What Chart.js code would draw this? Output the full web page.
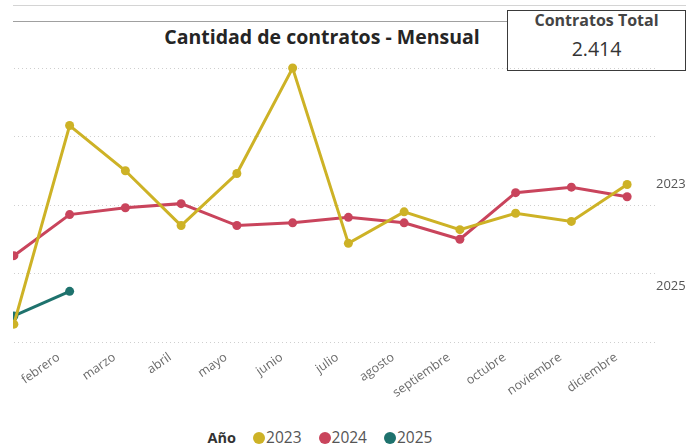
<!DOCTYPE html>
<html><head><meta charset="utf-8">
<script src="https://cdn.jsdelivr.net/npm/chart.js@4.4.1/dist/chart.umd.min.js"></script>
<style>
html,body{margin:0;padding:0;background:#fff;width:686px;height:446px;overflow:hidden;font-family:'Open Sans',sans-serif;position:relative;}
#line1{position:absolute;left:13px;top:5px;width:673px;height:1px;background:#d4d4d4;}
#line2{position:absolute;left:13px;top:21px;width:495px;height:1px;background:#a0a0a0;}
#title{position:absolute;left:0;width:644px;top:24px;text-align:center;font-weight:700;font-size:19.5px;color:#252525;line-height:26px;}
#card{position:absolute;left:507px;top:10px;width:179px;height:61px;border:1.5px solid #3a3a3a;box-sizing:border-box;background:#fff;text-align:center;}
#cardT{position:absolute;left:0;right:0;top:-2px;font-weight:700;font-size:16px;color:#444;line-height:22px;}
#cardV{position:absolute;left:0;right:0;top:24px;font-size:19.5px;color:#333;line-height:28px;}
#clip{position:absolute;left:13px;top:0;width:673px;height:420px;overflow:hidden;}
#c{position:absolute;left:-113px;top:0;}
#legend{position:absolute;top:426px;left:0;width:640px;text-align:center;font-size:15.5px;color:#555;line-height:22px;white-space:nowrap;}
#legend b{color:#333;margin-right:17px;font-size:14.5px;}
#legend .it{display:inline-block;margin-right:17px;}
#legend .it:last-child{margin-right:0;}
#legend .dot{display:inline-block;width:12px;height:12px;border-radius:50%;vertical-align:-1px;margin-right:1px;}
</style></head>
<body>
<div id="line1"></div><div id="line2"></div>
<div id="title">Cantidad de contratos - Mensual</div>
<div id="card"><div id="cardT">Contratos Total</div><div id="cardV">2.414</div></div>
<div id="clip"><canvas id="c" width="786" height="402"></canvas></div>
<div id="legend"></div>
<script>
const months = ['enero','febrero','marzo','abril','mayo','junio','julio','agosto','septiembre','octubre','noviembre','diciembre'];
const years = ['2023','2024','2025'];
const v2023 = [13,158,125,85,123,200,72,95,82,94,88,115];
const v2024 = [63,93,98,101,85,87,91,87,75,109,113,106];
const v2025 = [19,37];
const colors = ['#CDB226','#C9445C','#1E726D'];
const endLabelYears = ['2023','2025'];
const legendTitle = 'Año';

const series = [v2023, v2024, v2025];
const datasets = series.map((d,i)=>({
  label: years[i], data: d,
  borderColor: colors[i], backgroundColor: colors[i],
  pointBackgroundColor: colors[i], pointBorderWidth: 0,
  pointRadius: 4.5, borderWidth: 3, tension: 0, clip: false
}));

const endLabels = {
  id:'endLabels',
  afterDatasetsDraw(chart){
    const ctx = chart.ctx;
    ctx.save();
    ctx.font = '13px "Open Sans"';
    ctx.fillStyle = '#555';
    ctx.textBaseline = 'middle';
    ctx.textAlign = 'left';
    chart.data.datasets.forEach((ds,i)=>{
      if(!endLabelYears.includes(ds.label)) return;
      const meta = chart.getDatasetMeta(i);
      const pt = meta.data[meta.data.length-1];
      ctx.fillText(ds.label, chart.chartArea.right + 1, pt.y - (i===2?5:0));
    });
    ctx.restore();
  }
};

new Chart(document.getElementById('c'), {
  type:'line',
  data:{labels: months, datasets},
  plugins:[endLabels],
  options:{
    responsive:false, animation:false,
    layout:{padding:{left:86,right:31,top:68,bottom:0}},
    plugins:{legend:{display:false}, tooltip:{enabled:false}, title:{display:false}},
    scales:{
      x:{
        offset:true,
        grid:{display:false, drawTicks:false},
        border:{display:false},
        ticks:{color:'#6b6b6b', font:{family:'Open Sans', size:12.5}, minRotation:35, maxRotation:35, padding:8, labelOffset:-11, autoSkip:false},
        afterFit(s){ s.height = 60; }
      },
      y:{
        min:0, max:200,
        ticks:{display:false, stepSize:50},
        grid:{color:'#cfcfcf', lineWidth:1, drawTicks:false},
        border:{display:false, dash:[1,3]},
        afterFit(s){ s.width = 0; }
      }
    }
  }
});

const lg = document.getElementById('legend');
let html = '<b>'+legendTitle+'</b>';
years.forEach((y,i)=>{ html += '<span class="it"><span class="dot" style="background:'+colors[i]+'"></span>'+y+'</span>'; });
lg.innerHTML = html;
</script>
</body></html>
